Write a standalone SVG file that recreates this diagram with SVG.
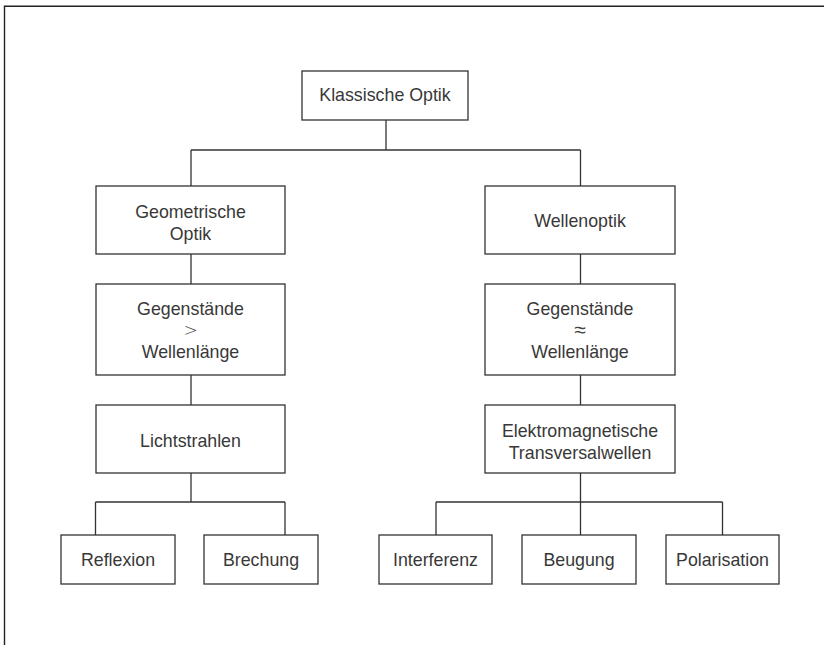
<svg xmlns="http://www.w3.org/2000/svg" width="824" height="645" viewBox="0 0 824 645">
<style>
.box{fill:#fff;stroke:#333;stroke-width:1.3}
.ln{fill:none;stroke:#333;stroke-width:1.3}
text{font-family:"Liberation Sans",Arial,sans-serif;font-size:17.8px;fill:#383838;text-anchor:middle}
.sym{font-family:"DejaVu Sans",sans-serif;font-weight:200;font-size:17px;fill:#444}
.big{font-size:21px}
</style>
<rect width="824" height="645" fill="#fff"/>
<path d="M4.5 645 V6.2 H824" fill="none" stroke="#222" stroke-width="1.4"/>
<g id="connectors" class="ln">
<path d="M386 120 V150 M191 150 H580.5 M191 150 V186 M580.5 150 V186"/>
<path d="M191 254 V284 M191 375 V405 M191 473 V502 M95.5 502 H285 M95.5 502 V535 M285 502 V535"/>
<path d="M580.5 254 V284 M580.5 375 V405 M580.5 473 V535 M436 502 H722.5 M436 502 V535 M722.5 502 V535"/>
</g>
<g id="klassische"><rect class="box" x="302" y="71" width="166" height="49"/><text x="385" y="101">Klassische Optik</text></g>
<g id="geometrische"><rect class="box" x="96" y="186" width="189" height="68"/><text x="190.5" y="217.5">Geometrische</text><text x="190.5" y="239.5">Optik</text></g>
<g id="wellenoptik"><rect class="box" x="485" y="186" width="190" height="68"/><text x="580" y="227">Wellenoptik</text></g>
<g id="gegenstaende-gt"><rect class="box" x="96" y="284" width="189" height="91"/><text x="190.5" y="315">Gegenstände</text><text class="sym" x="190.5" y="336">&gt;</text><text x="190.5" y="357.5">Wellenlänge</text></g>
<g id="gegenstaende-approx"><rect class="box" x="485" y="284" width="190" height="91"/><text x="580" y="315">Gegenstände</text><text class="sym big" x="580" y="337">≈</text><text x="580" y="357.5">Wellenlänge</text></g>
<g id="lichtstrahlen"><rect class="box" x="96" y="405" width="189" height="68"/><text x="190.5" y="447">Lichtstrahlen</text></g>
<g id="elektromagnetische"><rect class="box" x="485" y="405" width="190" height="68"/><text x="580" y="436.5">Elektromagnetische</text><text x="580" y="458.5">Transversalwellen</text></g>
<g id="reflexion"><rect class="box" x="61" y="535" width="114" height="49"/><text x="118" y="566">Reflexion</text></g>
<g id="brechung"><rect class="box" x="204" y="535" width="114" height="49"/><text x="261" y="566">Brechung</text></g>
<g id="interferenz"><rect class="box" x="379" y="535" width="113" height="49"/><text x="435.5" y="566">Interferenz</text></g>
<g id="beugung"><rect class="box" x="522" y="535" width="114" height="49"/><text x="579" y="566">Beugung</text></g>
<g id="polarisation"><rect class="box" x="666" y="535" width="113" height="49"/><text x="722.5" y="566">Polarisation</text></g>
</svg>
